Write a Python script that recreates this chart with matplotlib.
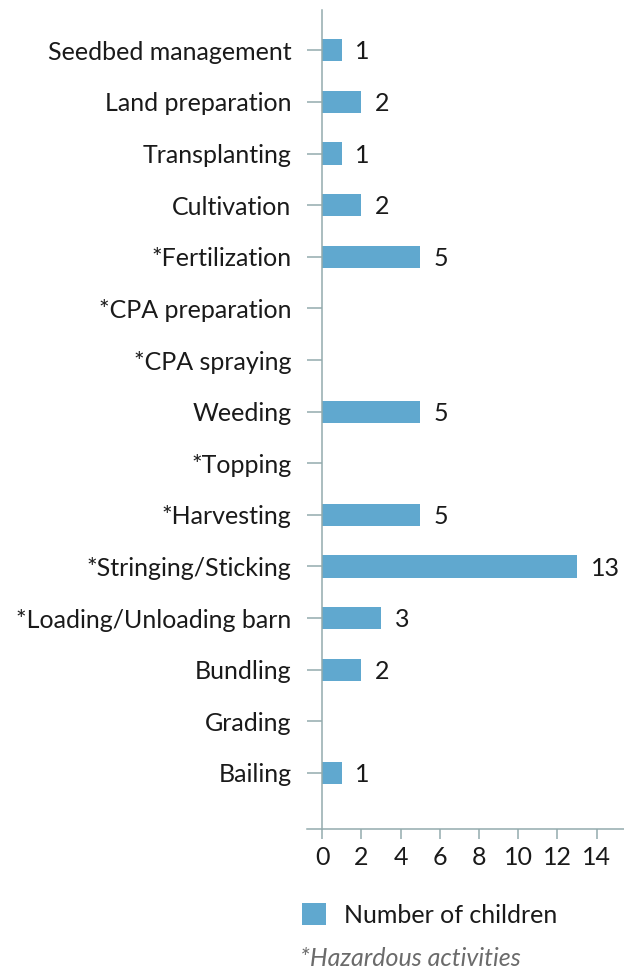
import matplotlib.pyplot as plt

plt.rcParams['font.family'] = ['Lato', 'DejaVu Sans']

activities = ['Seedbed management', 'Land preparation', 'Transplanting', 'Cultivation',
              '*Fertilization', '*CPA preparation', '*CPA spraying', 'Weeding', '*Topping',
              '*Harvesting', '*Stringing/Sticking', '*Loading/Unloading barn', 'Bundling',
              'Grading', 'Bailing']
children = [1, 2, 1, 2, 5, 0, 0, 5, 0, 5, 13, 3, 2, 0, 1]
xticks = [0, 2, 4, 6, 8, 10, 12, 14]

bar_color = '#60a8cf'
axis_color = '#93abad'
fs = 18

fig = plt.figure(figsize=(6.24, 9.68), dpi=100)
ax = fig.add_axes([307 / 624, 1 - 829 / 968, 1 - 307 / 624, (829 - 10) / 968])

positions = list(range(len(activities)))
bars = ax.barh(positions, children, height=0.43, color=bar_color, label='Number of children')
for pos, val in zip(positions, children):
    if val > 0:
        ax.text(val + 0.7, pos + 0.03, str(val), va='center', ha='left', fontsize=fs, color='#1a1a1a')

ax.set_xlim(-0.77, 15.4)
ax.set_ylim(15.085, -0.78)
ax.set_yticks(positions)
ax.set_yticklabels(activities)
ax.set_xticks(xticks)

ax.spines['left'].set_position(('data', 0))
for side in ['top', 'right']:
    ax.spines[side].set_visible(False)
for side in ['left', 'bottom']:
    ax.spines[side].set_color(axis_color)
    ax.spines[side].set_linewidth(1.1)

ax.tick_params(axis='y', direction='out', length=11, width=1.1, color=axis_color,
               pad=11, labelsize=fs, labelcolor='#1a1a1a')
ax.tick_params(axis='x', direction='out', length=7.5, width=1.1, color=axis_color,
               pad=5, labelsize=fs, labelcolor='#1a1a1a')

fig.legend(handles=[bars], loc='center left', bbox_to_anchor=(302 / 624, 1 - 915 / 968),
           frameon=False, fontsize=fs, handlelength=0.95, handleheight=0.95,
           handletextpad=0.75, borderpad=0, borderaxespad=0, labelcolor='#1a1a1a')

fig.text(300 / 624, 1 - 958 / 968, '*Hazardous activities', style='italic',
         color='#6b6b6b', fontsize=fs, va='center', ha='left')

fig.savefig('out.png', dpi=100)
